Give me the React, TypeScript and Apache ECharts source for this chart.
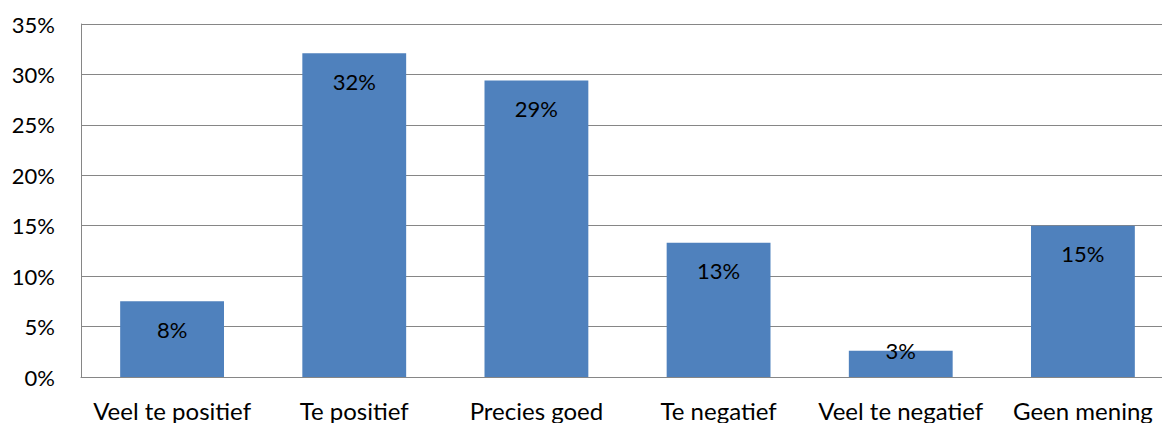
import React, { useEffect, useRef } from "react";
import * as echarts from "echarts";

const categories = ["Veel te positief", "Te positief", "Precies goed", "Te negatief", "Veel te negatief", "Geen mening"];
const values = [7.5, 32.1, 29.4, 13.3, 2.6, 15.0];
const yMax = 35;
const yInterval = 5;

export default function App() {
  const ref = useRef<HTMLDivElement>(null);
  useEffect(() => {
    if (!ref.current) return;
    const chart = echarts.init(ref.current, undefined, { renderer: "svg" });
    const font = "Lato";
    chart.setOption({
      animation: false,
      grid: { left: 81, width: 1093, top: 24, height: 353, containLabel: false, outerBoundsMode: "none" },
      xAxis: {
        type: "category",
        data: categories,
        axisLine: { show: true, lineStyle: { color: "#868686", width: 1 } },
        axisTick: { show: false },
        axisLabel: { color: "#000", fontSize: 24, fontFamily: font, margin: 21, interval: 0 },
      },
      yAxis: {
        type: "value",
        min: 0,
        max: yMax,
        interval: yInterval,
        axisLine: { show: true, lineStyle: { color: "#868686", width: 1 } },
        axisTick: { show: false },
        splitLine: { lineStyle: { color: "#868686", width: 1 } },
        axisLabel: { color: "#000", fontSize: 22, fontFamily: font, margin: 26, formatter: (v: number) => v + "%" },
      },
      series: [
        {
          type: "bar",
          barWidth: "57%",
          itemStyle: { color: "#4F81BD" },
          label: {
            show: true,
            position: "insideTop",
            distance: 17,
            color: "#000",
            fontSize: 22,
            fontFamily: font,
            formatter: (p: any) => Math.round(p.value) + "%",
          },
          data: values.map((v) =>
            v < 5 ? { value: v, label: { offset: [0, -28] } } : v
          ),
        },
      ],
    });
    return () => chart.dispose();
  }, []);
  return <div ref={ref} style={{ position: "absolute", left: 0, top: 0, width: 1162, height: 423 }} />;
}
